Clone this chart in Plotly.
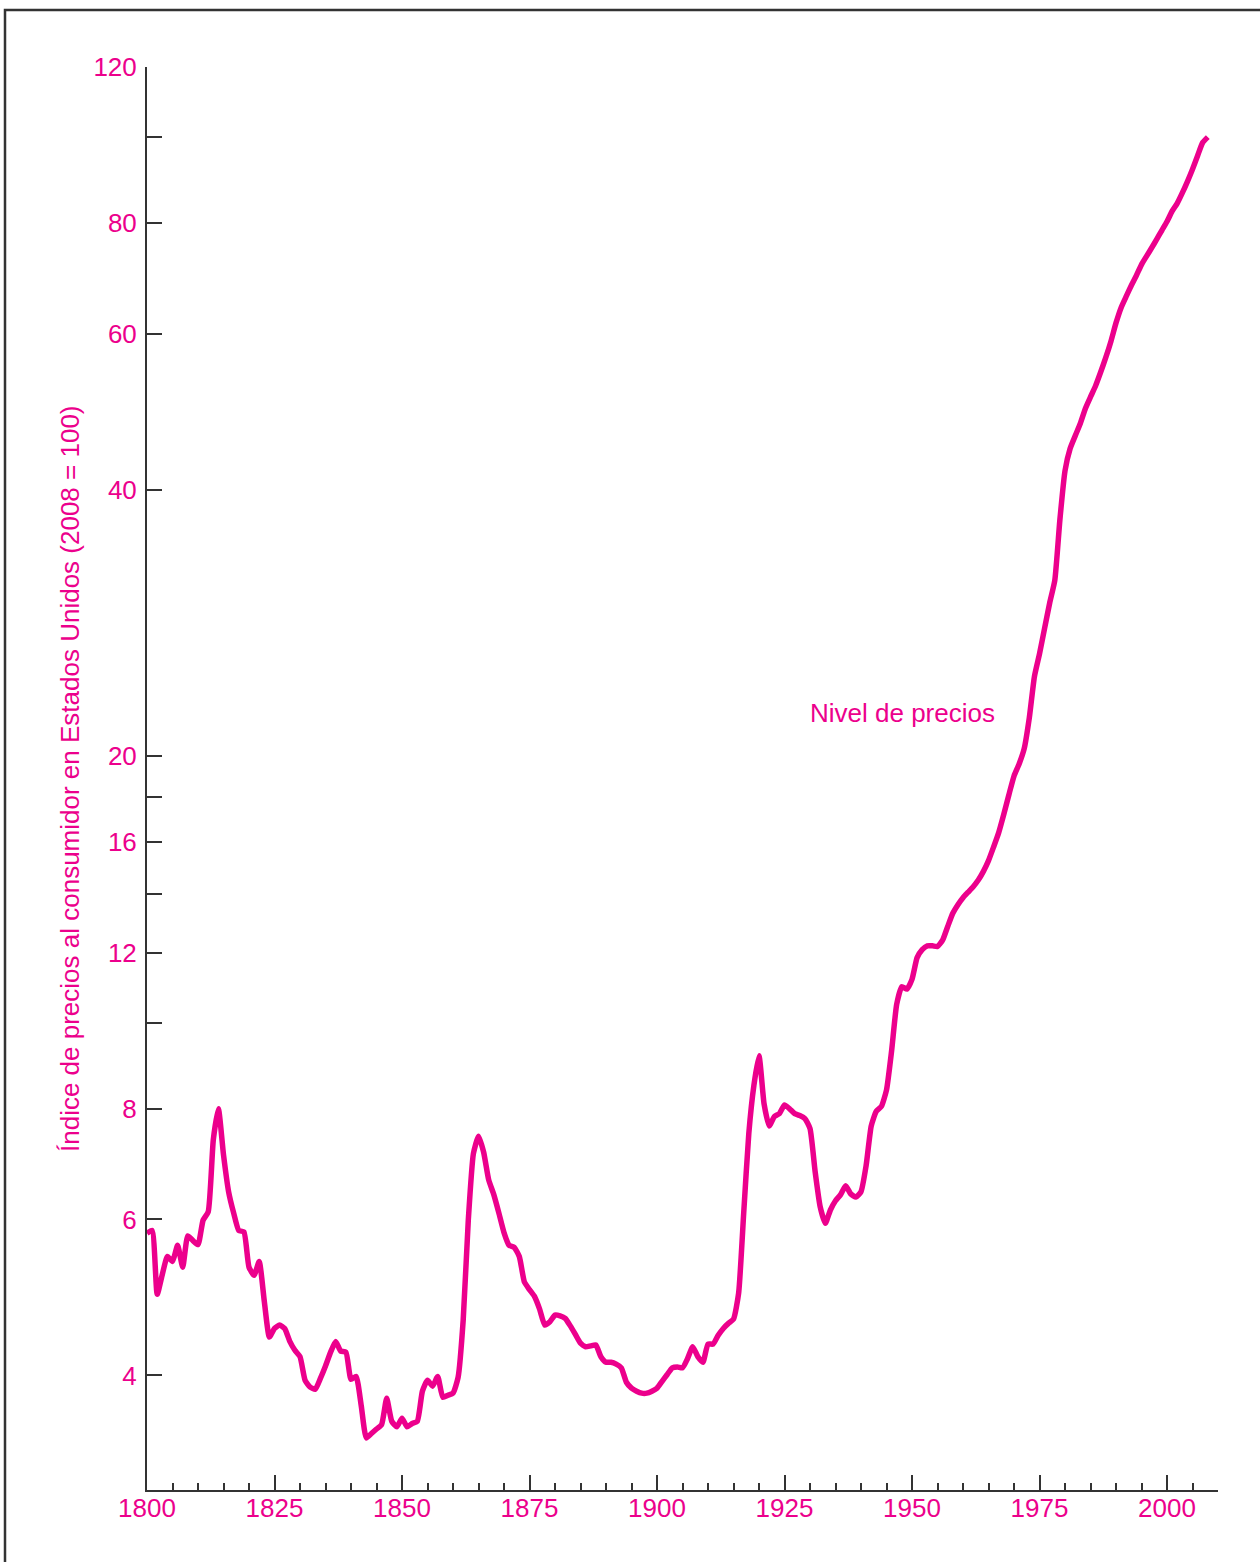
import math
import plotly.graph_objects as go

years = list(range(1800, 2009))
cpi = [
    5.79, 5.83, 4.94, 5.20, 5.45, 5.38, 5.61, 5.30, 5.75, 5.68,  # 1800-1809
    5.62, 5.99, 6.12, 7.38, 8.00, 7.10, 6.45, 6.10, 5.83, 5.81,  # 1810-1819
    5.30, 5.19, 5.38, 4.85, 4.42, 4.52, 4.56, 4.52, 4.37, 4.27,  # 1820-1829
    4.20, 3.95, 3.88, 3.86, 3.97, 4.10, 4.25, 4.37, 4.26, 4.25,  # 1830-1839
    3.96, 3.99, 3.70, 3.40, 3.44, 3.48, 3.52, 3.77, 3.55, 3.50,  # 1840-1849
    3.58, 3.50, 3.53, 3.55, 3.84, 3.95, 3.89, 3.99, 3.78, 3.80,  # 1850-1859
    3.82, 3.98, 4.62, 5.99, 7.12, 7.45, 7.15, 6.65, 6.40, 6.10,  # 1860-1869
    5.80, 5.61, 5.58, 5.45, 5.10, 5.00, 4.91, 4.75, 4.56, 4.60,  # 1870-1879
    4.68, 4.67, 4.64, 4.55, 4.45, 4.35, 4.31, 4.32, 4.33, 4.20,  # 1880-1889
    4.14, 4.14, 4.12, 4.08, 3.93, 3.87, 3.84, 3.82, 3.82, 3.84,  # 1890-1899
    3.87, 3.94, 4.01, 4.08, 4.09, 4.08, 4.18, 4.31, 4.20, 4.14,  # 1900-1909
    4.34, 4.34, 4.44, 4.52, 4.58, 4.63, 4.95, 6.10, 7.50, 8.50,  # 1910-1919
    9.18, 8.10, 7.65, 7.84, 7.90, 8.08, 8.00, 7.90, 7.86, 7.80,  # 1920-1929
    7.60, 6.80, 6.20, 5.94, 6.15, 6.30, 6.40, 6.55, 6.41, 6.36,  # 1930-1939
    6.45, 6.90, 7.65, 7.95, 8.05, 8.40, 9.30, 10.50, 10.99, 10.92,  # 1940-1949
    11.20, 11.85, 12.10, 12.22, 12.22, 12.20, 12.40, 12.85, 13.30, 13.60,  # 1950-1959
    13.85, 14.05, 14.25, 14.50, 14.83, 15.25, 15.80, 16.40, 17.20, 18.10,  # 1960-1969
    19.00, 19.60, 20.40, 22.10, 24.60, 26.10, 27.90, 29.80, 31.60, 37.00,  # 1970-1979
    42.00, 44.50, 46.00, 47.50, 49.40, 50.90, 52.40, 54.30, 56.40, 58.80,  # 1980-1989
    61.70, 64.20, 66.10, 68.00, 69.80, 71.80, 73.40, 75.00, 76.70, 78.50,  # 1990-1999
    80.30, 82.50, 84.20, 86.50, 89.10, 92.00, 95.30, 98.60, 100.00,  # 2000-2008
]

y_tick_vals = [4, 6, 8, 10, 12, 14, 16, 18, 20, 40, 60, 80, 100, 120]
y_tick_text = ["4", "6", "8", "", "12", "", "16", "", "20", "40", "60", "80", "", "120"]

series_label = "Nivel de precios"
y_title = "Índice de precios al consumidor en Estados Unidos (2008 = 100)"

MAGENTA = "#EC008C"
AXIS = "#333333"
FONT = "Liberation Sans, Arial, Helvetica, sans-serif"
FS = 26

L, R, T, B = 147, 42, 67, 72
W, H = 1260, 1562
pw, ph = W - L - R, H - T - B

fig = go.Figure()
fig.add_trace(go.Scatter(
    x=years, y=cpi, mode="lines",
    line=dict(color=MAGENTA, width=5.5, shape="spline", smoothing=0.5),
    showlegend=False, hoverinfo="x+y",
))

fig.add_annotation(
    x=1929.6, y=math.log10(22.4), yref="y", xref="x",
    text=series_label, showarrow=False, xanchor="left", yanchor="middle",
    font=dict(family=FONT, size=FS, color=MAGENTA),
)

fig.add_annotation(
    x=(70 - L) / pw, y=((H - B) - 779) / ph, xref="paper", yref="paper",
    text=y_title, showarrow=False, textangle=-90,
    xanchor="center", yanchor="middle",
    font=dict(family=FONT, size=FS, color=MAGENTA),
)

# outer frame (partially cropped, as in reference)
fig.add_shape(
    type="rect", xref="paper", yref="paper",
    x0=(5 - L) / pw, x1=(1300 - L) / pw,
    y0=-(1600 - (H - B)) / ph, y1=((H - B) - 10) / ph,
    line=dict(color=AXIS, width=2.5), fillcolor="rgba(0,0,0,0)", layer="below",
)

fig.update_layout(
    width=W, height=H,
    margin=dict(l=L, r=R, t=T, b=B, pad=0),
    paper_bgcolor="white", plot_bgcolor="white",
    font=dict(family=FONT, size=FS, color=MAGENTA),
    xaxis=dict(
        range=[1800, 2010], showgrid=False, zeroline=False,
        showline=True, linecolor=AXIS, linewidth=2,
        ticks="inside", ticklen=15, tickwidth=1.5, tickcolor=AXIS,
        tick0=1800, dtick=25,
        tickfont=dict(family=FONT, size=FS, color=MAGENTA),
        ticklabelstandoff=-6,
        minor=dict(ticks="inside", ticklen=7, tickwidth=1.5, tickcolor=AXIS,
                   dtick=5, tick0=1800, showgrid=False),
    ),
    yaxis=dict(
        type="log", range=[math.log10(2.97), math.log10(120)],
        showgrid=False, zeroline=False,
        showline=True, linecolor=AXIS, linewidth=2,
        ticks="inside", ticklen=15, tickwidth=1.5, tickcolor=AXIS,
        tickmode="array", tickvals=y_tick_vals, ticktext=y_tick_text,
        tickfont=dict(family=FONT, size=FS, color=MAGENTA),
        ticklabelstandoff=3,
    ),
)

fig.write_html(
    "out.html",
    config={"displayModeBar": False},
    post_script="document.body.style.margin='0';",
)
